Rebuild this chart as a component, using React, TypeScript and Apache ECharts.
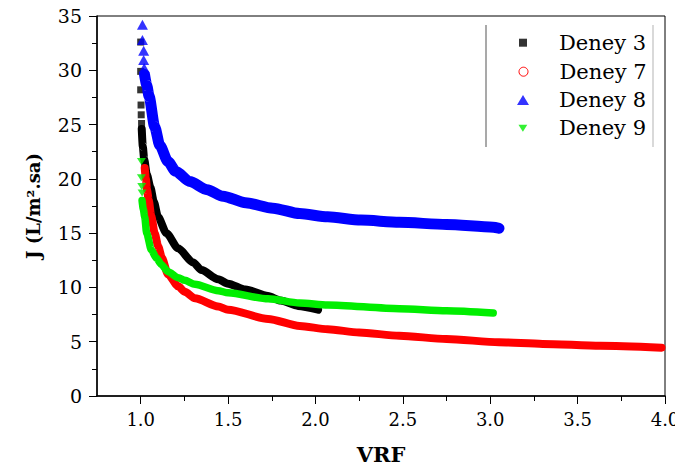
import React, { useEffect, useRef } from "react";
import * as echarts from "echarts";

// ---- data ----
const seriesNames = ["Deney 3", "Deney 7", "Deney 8", "Deney 9"];
const seriesColors = ["#000000", "#ff0000", "#0000ff", "#00ee00"];

const xMajorTicks = [1.0, 1.5, 2.0, 2.5, 3.0, 3.5, 4.0];
const xMinorTicks = [1.25, 1.75, 2.25, 2.75, 3.25, 3.75];

// sparse (separately visible) markers at the top of each curve
const deney3Markers = [[1.0, 32.6], [1.0, 29.9], [1.0, 28.2], [1.002, 26.8], [1.003, 25.9], [1.005, 25.1]];
const deney8Markers = [[1.01, 34.2], [1.01, 32.8], [1.017, 31.8], [1.017, 30.95], [1.02, 30.2]];
const deney9Markers = [[1.004, 21.6], [1.004, 20.1], [1.006, 19.3], [1.008, 18.7]];

// dense marker bands
const deney3Curve = [
  [1.006, 24.6], [1.012, 23.0], [1.02, 21.8], [1.035, 20.4], [1.056, 19.2], [1.075, 17.9],
  [1.099, 16.5], [1.147, 15.0], [1.214, 13.6], [1.3, 12.3], [1.348, 11.6], [1.443, 10.75],
  [1.5, 10.35], [1.6, 9.8], [1.729, 9.2], [1.8, 8.8], [1.9, 8.3], [2.015, 7.95],
];
const deney7Curve = [
  [1.023, 21.0], [1.03, 20.0], [1.036, 19.0], [1.046, 18.05], [1.06, 16.6], [1.08, 15.0],
  [1.1, 13.8], [1.122, 12.7], [1.156, 11.2], [1.215, 10.1], [1.252, 9.6], [1.31, 9.0],
  [1.443, 8.25], [1.5, 7.95], [1.729, 7.1], [1.91, 6.45], [2.07, 6.15], [2.25, 5.85],
  [2.48, 5.55], [2.75, 5.25], [3.05, 4.95], [3.3, 4.8], [3.63, 4.62], [3.98, 4.45],
];
const deney8Curve = [
  [1.022, 29.6], [1.035, 28.6], [1.048, 27.6], [1.08, 24.8], [1.109, 23.1], [1.156, 21.6],
  [1.2, 20.7], [1.281, 19.75], [1.38, 19.0], [1.471, 18.4], [1.6, 17.8], [1.757, 17.3], [1.91, 16.8],
  [2.07, 16.5], [2.26, 16.2], [2.48, 16.0], [2.75, 15.8], [3.017, 15.55], [3.05, 15.45],
];
const deney9Curve = [
  [1.008, 18.0], [1.015, 17.2], [1.023, 16.5], [1.034, 15.0], [1.061, 13.45], [1.09, 12.7],
  [1.119, 12.1], [1.156, 11.45], [1.215, 10.9], [1.252, 10.65], [1.31, 10.3], [1.443, 9.7],
  [1.5, 9.5], [1.729, 8.95], [1.91, 8.57], [2.07, 8.38], [2.48, 8.04], [2.75, 7.85],
  [3.017, 7.64],
];

const FONT = "DejaVu Serif";

export default function App() {
  const ref = useRef<HTMLDivElement>(null);

  useEffect(() => {
    if (!ref.current) return;
    const chart = echarts.init(ref.current, null, { renderer: "svg" });

    const downTri = "path://M0,0L10,0L5,8Z";
    const legendSpec = [
      { name: seriesNames[0], icon: "rect", w: 8, h: 8, itemStyle: { color: seriesColors[0] } },
      { name: seriesNames[1], icon: "circle", w: 9, h: 9, itemStyle: { color: "#ffffff", borderColor: seriesColors[1], borderWidth: 1 } },
      { name: seriesNames[2], icon: "triangle", w: 12, h: 10, itemStyle: { color: seriesColors[2] } },
      { name: seriesNames[3], icon: downTri, w: 9, h: 7, itemStyle: { color: seriesColors[3] } },
    ];
    const rowCenters = [42.7, 71.7, 100, 128.3];
    const rowH = 26;

    const legends = legendSpec.map((s, i) => ({
      show: true,
      selectedMode: false,
      orient: "vertical",
      padding: 0,
      left: 523 - s.w / 2,
      top: rowCenters[i] - rowH / 2,
      itemWidth: s.w,
      itemHeight: s.h,
      data: [{ name: s.name, icon: s.icon, itemStyle: s.itemStyle }],
      textStyle: {
        fontFamily: FONT,
        fontSize: 21,
        color: "#000",
        lineHeight: rowH,
        padding: [0, 0, 0, 31 - s.w / 2],
      },
    }));

    const band = (name: string, data: number[][], color: string, width: number, z: number) => ({
      name,
      type: "line",
      data,
      showSymbol: false,
      symbol: "none",
      smooth: 0.25,
      smoothMonotone: "x",
      z,
      lineStyle: { color, width, join: "round", cap: "round" },
      itemStyle: { color },
    });
    const dots = (name: string, data: number[][], color: string, symbol: string, size: number | number[], z: number) => ({
      name,
      type: "scatter",
      data,
      symbol,
      symbolSize: size,
      z,
      itemStyle: { color },
    });

    chart.setOption({
      animation: false,
      backgroundColor: "#ffffff",
      textStyle: { fontFamily: FONT },
      grid: {
        left: 97,
        right: 18,
        top: 16,
        bottom: 77,
        show: true,
        borderColor: "#000",
        borderWidth: 1,
        backgroundColor: "transparent",
      },
      legend: legends,
      xAxis: [
        {
          type: "value",
          min: 0.75,
          max: 4.0,
          interval: 0.25,
          position: "bottom",
          name: "VRF",
          nameLocation: "middle",
          nameGap: 48,
          nameTextStyle: { fontFamily: FONT, fontSize: 21, fontWeight: "bold", color: "#000" },
          axisLine: { show: true, lineStyle: { color: "#000", width: 1.5 } },
          axisTick: { show: true, customValues: xMajorTicks, length: 8, lineStyle: { color: "#000", width: 1 } },
          axisLabel: {
            customValues: xMajorTicks,
            formatter: (v: number) => v.toFixed(1),
            fontFamily: FONT,
            fontSize: 18,
            color: "#000",
            margin: 14,
          },
          splitLine: { show: false },
        },
        {
          type: "value",
          min: 0.75,
          max: 4.0,
          interval: 0.25,
          position: "bottom",
          axisLine: { show: false },
          axisTick: { show: true, customValues: xMinorTicks, length: 5, lineStyle: { color: "#000", width: 1 } },
          axisLabel: { show: false },
          splitLine: { show: false },
        },
      ],
      yAxis: {
        type: "value",
        min: 0,
        max: 35,
        interval: 5,
        name: "J (L/m².sa)",
        nameLocation: "middle",
        nameGap: 55,
        nameTextStyle: { fontFamily: FONT, fontSize: 18, fontWeight: "bold", color: "#000" },
        axisLine: { show: true, lineStyle: { color: "#000", width: 1.5 } },
        axisTick: { show: true, length: 8, lineStyle: { color: "#000", width: 1 } },
        minorTick: { show: true, splitNumber: 2, length: 5, lineStyle: { color: "#000", width: 1 } },
        axisLabel: { fontFamily: FONT, fontSize: 19, color: "#000", margin: 15 },
        splitLine: { show: false },
      },
      graphic: [
        { type: "line", shape: { x1: 486, y1: 25, x2: 486, y2: 147 }, style: { stroke: "#8c8c8c", lineWidth: 1.5 } },
        { type: "line", shape: { x1: 653, y1: 25, x2: 653, y2: 147 }, style: { stroke: "#cccccc", lineWidth: 1.5 } },
      ],
      series: [
        dots(seriesNames[0], deney3Markers, seriesColors[0], "rect", 7, 2),
        band(seriesNames[0], deney3Curve, seriesColors[0], 8, 2),
        band(seriesNames[1], deney7Curve, seriesColors[1], 8, 3),
        dots(seriesNames[2], deney8Markers, seriesColors[2], "triangle", [11, 10], 4),
        band(seriesNames[2], deney8Curve, seriesColors[2], 11, 4),
        dots(seriesNames[3], deney9Markers, seriesColors[3], downTri, [9, 7], 5),
        band(seriesNames[3], deney9Curve, seriesColors[3], 7.5, 5),
      ],
    });

    return () => chart.dispose();
  }, []);

  return <div ref={ref} style={{ width: 683, height: 473, margin: -8 }} />;
}
